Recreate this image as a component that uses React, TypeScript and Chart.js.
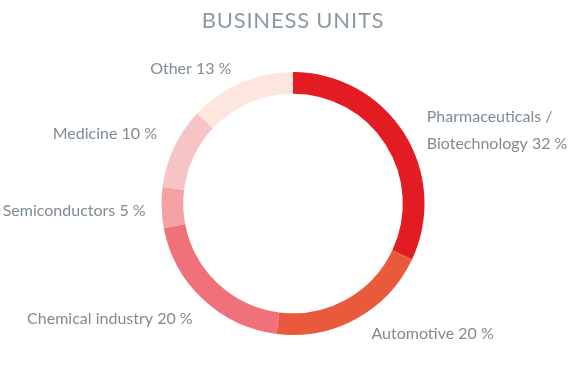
import React, { useEffect, useRef } from "react";
import { Chart, registerables } from "chart.js";

Chart.register(...registerables);

const title = "BUSINESS UNITS";
const categories = ["Pharmaceuticals /\nBiotechnology", "Automotive", "Chemical industry", "Semiconductors", "Medicine", "Other"];
const shares = [32, 20, 20, 5, 10, 13];
const colors = ["#e31b23", "#e95a3c", "#f07179", "#f4a2a4", "#f7c4c5", "#fde6dd"];

const textColor = "#7f8b94";
const fontFamily = "Lato, 'Open Sans', sans-serif";
// small label nudges (style only)
const labelNudgeX = [1, 1, 4, 5, 2, -1];
const labelNudgeY = [9, -3, 4, 3, -5, 5];

const labelPlugin = {
  id: "outerLabels",
  afterDraw(chart: any) {
    const ctx = chart.ctx;
    ctx.save();
    ctx.font = `22px ${fontFamily}`;
    ctx.fillStyle = "#8d99a1";
    (ctx as any).letterSpacing = "0.8px";
    ctx.textAlign = "center";
    ctx.textBaseline = "middle";
    ctx.fillText(title, chart.width / 2 + 8, 21);
    (ctx as any).letterSpacing = "0px";

    const meta = chart.getDatasetMeta(0);
    ctx.font = `16px ${fontFamily}`;
    ctx.fillStyle = textColor;
    meta.data.forEach((arc: any, i: number) => {
      const mid = (arc.startAngle + arc.endAngle) / 2;
      const r = arc.outerRadius + 21;
      const x = arc.x + Math.cos(mid) * r + labelNudgeX[i];
      const y = arc.y + Math.sin(mid) * r + labelNudgeY[i];
      const right = Math.cos(mid) >= 0;
      ctx.textAlign = right ? "left" : "right";
      ctx.textBaseline = "middle";
      const text = categories[i] + " " + shares[i] + " %";
      const lines = text.split("\n");
      const lh = 27;
      lines.forEach((ln: string, k: number) => {
        ctx.fillText(ln, x + (right ? 4 : 0), y + (k - (lines.length - 1) / 2) * lh);
      });
    });
    ctx.restore();
  },
};

export default function App() {
  const ref = useRef<HTMLCanvasElement | null>(null);
  useEffect(() => {
    document.body.style.margin = "0";
    const chart = new Chart(ref.current as HTMLCanvasElement, {
      type: "doughnut",
      data: {
        labels: categories.map((c) => c.replace("\n", " ")),
        datasets: [
          {
            data: shares,
            backgroundColor: colors,
            borderWidth: 0,
          },
        ],
      },
      options: {
        animation: false,
        responsive: false,
        cutout: "83.5%",
        layout: { padding: { top: 72, bottom: 49, left: 161, right: 145 } },
        plugins: {
          legend: { display: false },
          tooltip: { enabled: false },
          title: { display: false },
        },
      },
      plugins: [labelPlugin],
    });
    return () => chart.destroy();
  }, []);
  return (
    <div style={{ width: 570, height: 384, position: "relative" }}>
      <canvas ref={ref} width={570} height={384} style={{ display: "block" }} />
    </div>
  );
}
